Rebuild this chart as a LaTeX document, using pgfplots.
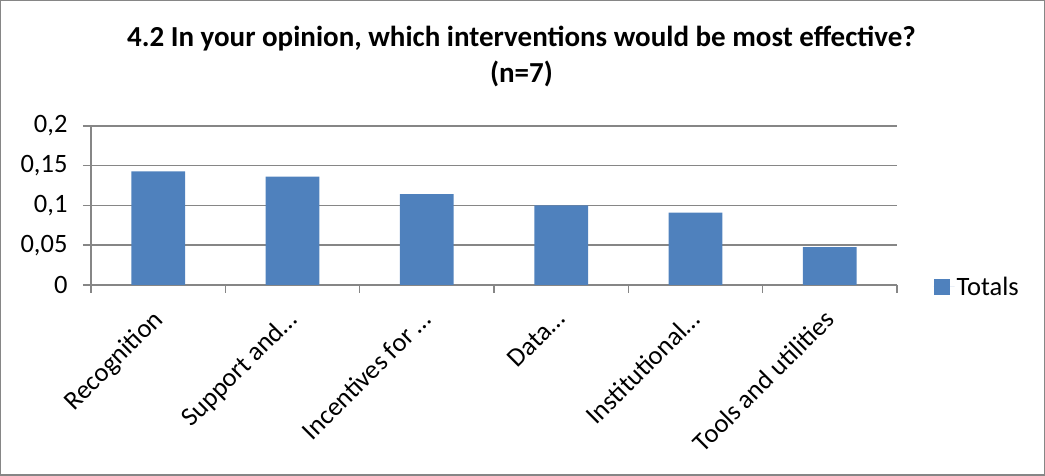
\documentclass[border=0pt]{standalone}
\usepackage{fontspec}
\setmainfont{Carlito}
\usepackage{pgfplots}
\pgfplotsset{compat=1.18}
\definecolor{barblue}{HTML}{4F81BD}
\definecolor{axgray}{HTML}{868686}

\begin{document}
\begin{tikzpicture}
\begin{axis}[
    at={(0pt,0pt)}, anchor=south west,
    scale only axis, width=806pt, height=159pt,
    ybar, bar width=0.4,
    xmin=-0.5, xmax=5.5, ymin=0, ymax=0.2,
    axis x line*=bottom, axis y line*=left,
    x axis line style={-}, y axis line style={-},
    axis line style={axgray, line width=1.5pt},
    ymajorgrids, grid style={axgray, line width=1.5pt},
    ytick={0,0.05,0.1,0.15,0.2},
    xtick={0,...,5},
    xticklabels={Recognition, Support and…, Incentives for …, Data…, Institutional…, Tools and utilities},
    minor xtick={-0.5,0.5,...,5.5},
    major x tick style={draw=none},
    tick align=outside,
    major tick length=8pt, minor tick length=8pt,
    tick style={axgray, line width=1.5pt},
    /pgf/number format/.cd, fixed, precision=2, use comma, assume math mode=true,
    /pgfplots/.cd,
    tick label style={font=\fontsize{26.5}{32}\selectfont},
    yticklabel style={xshift=-12pt},
    xticklabel style={xshift=-7pt, yshift=-15pt, rotate=45, anchor=north east, inner sep=0pt},
    title={4.2 In your opinion, which interventions would be most effective?\\(n=7)},
    title style={at={(0.534,1)}, anchor=south, yshift=33pt, inner sep=0pt, align=center,
        font=\bfseries\fontsize{29}{36}\selectfont},
    legend style={at={(1.0415,-0.01)}, anchor=west, draw=none, fill=none,
        font=\fontsize{26.5}{32}\selectfont},
]
\addplot[fill=barblue, draw=none,
    legend image code/.code={\fill[barblue] (0pt,-8pt) rectangle (16pt,8pt); \path (0pt,0pt) -- (21pt,0pt);}]
    coordinates {(0,0.1429) (1,0.1364) (2,0.1143) (3,0.1) (4,0.0909) (5,0.0476)};
\addlegendentry{Totals}
\end{axis}
\pgfresetboundingbox
\draw[axgray, line width=1.5pt] (-90.25pt,-190.25pt) rectangle (953.25pt,284.25pt);
\path (-91pt,-191pt) rectangle (954pt,285pt);
\end{tikzpicture}
\end{document}
